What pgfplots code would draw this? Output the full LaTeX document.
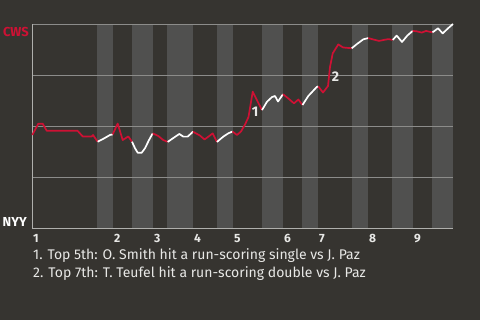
\documentclass[border=0pt]{standalone}
\usepackage{pgfplots}
\pgfplotsset{compat=1.18}
\usepackage{fontspec}
\setmainfont{Fira Sans}
\definecolor{bg}{RGB}{54,52,48}
\definecolor{band}{RGB}{80,80,79}
\definecolor{cws}{RGB}{206,17,52}
\definecolor{gridc}{RGB}{140,140,138}
\definecolor{axc}{RGB}{175,175,172}
\definecolor{txt}{RGB}{232,232,230}
\begin{document}
\begin{tikzpicture}
\begin{axis}[
  at={(32bp,92bp)}, anchor=south west,
  scale only axis, width=421bp, height=204bp,
  xmin=0, xmax=421, ymin=0, ymax=1,
  set layers, clip=false,
  axis x line*=bottom, axis y line*=left,
  axis line style={axc, line width=0.8bp},
  x axis line style={-}, y axis line style={-},
  ytick={0.25,0.5,0.75,1}, yticklabels={},
  ymajorgrids, grid style={gridc, line width=0.8bp},
  major tick length=0pt,
  xtick={0,81,121,161,201,251,286,336,381},
  xticklabels={1,2,3,4,5,6,7,8,9},
  xticklabel style={anchor=north west, font=\bfseries\fontsize{12bp}{12bp}\selectfont, text=txt, inner sep=0pt, yshift=-6bp, xshift=1bp},
  /pgf/number format/assume math mode=true,
  every axis plot/.append style={line width=1.7bp, line join=round},
]
\begin{pgfonlayer}{axis background}
\fill[bg] (axis description cs:-0.076010,-0.450980) rectangle (axis description cs:1.064133,1.117647);
\fill[band] (axis cs:65,0) rectangle (axis cs:81,1);
\fill[band] (axis cs:100,0) rectangle (axis cs:121,1);
\fill[band] (axis cs:135,0) rectangle (axis cs:161,1);
\fill[band] (axis cs:185,0) rectangle (axis cs:201,1);
\fill[band] (axis cs:230,0) rectangle (axis cs:251,1);
\fill[band] (axis cs:270,0) rectangle (axis cs:286,1);
\fill[band] (axis cs:320,0) rectangle (axis cs:336,1);
\fill[band] (axis cs:360,0) rectangle (axis cs:381,1);
\fill[band] (axis cs:400,0) rectangle (axis cs:421,1);
\end{pgfonlayer}
% top 1
\addplot[cws] coordinates {(0.3,0.456)(6.3,0.511)(10.7,0.511)(14.7,0.477)(45.5,0.477)(50.7,0.449)(59.7,0.449)(61,0.456)(65.7,0.423)};
% bottom 1
\addplot[white] coordinates {(65.7,0.423)(72,0.439)(78,0.456)(80.7,0.459)};
% top 2
\addplot[cws] coordinates {(80.7,0.459)(85.7,0.512)(90.7,0.431)(96.3,0.449)(100,0.423)};
% bottom 2
\addplot[white] coordinates {(100,0.423)(103,0.391)(105.7,0.369)(109.7,0.369)(113,0.391)(117,0.431)(120.7,0.464)};
% top 3
\addplot[cws] coordinates {(120.7,0.464)(126.3,0.451)(131.3,0.431)(135.7,0.422)};
% bottom 3
\addplot[white] coordinates {(135.7,0.422)(141.3,0.441)(147.3,0.461)(151.3,0.448)(155.7,0.448)(161,0.472)};
% top 4
\addplot[cws] coordinates {(161,0.472)(168,0.453)(172.5,0.434)(177.3,0.451)(180.7,0.464)(185,0.422)};
% bottom 4
\addplot[white] coordinates {(185,0.422)(191.3,0.448)(196.3,0.464)(200.5,0.473)};
% top 5
\addplot[cws] coordinates {(200.5,0.473)(205,0.456)(209,0.473)(213,0.507)(216.5,0.544)(220.7,0.668)(230,0.578)};
% bottom 5
\addplot[white] coordinates {(230,0.578)(235,0.619)(240,0.642)(243,0.647)(246,0.620)(251,0.656)};
% top 6
\addplot[cws] coordinates {(251,0.656)(256.3,0.635)(262,0.611)(266.3,0.630)(270.5,0.603)};
% bottom 6
\addplot[white] coordinates {(270.5,0.603)(276.3,0.647)(280.5,0.669)(284.7,0.691)(286.3,0.694)};
% top 7
\addplot[cws] coordinates {(286.3,0.694)(291,0.664)(296,0.696)(298,0.789)(300.7,0.856)(306.3,0.900)(311,0.885)(319.7,0.881)};
% bottom 7
\addplot[white] coordinates {(319.7,0.881)(325,0.902)(331.3,0.925)(336.3,0.931)};
% top 8
\addplot[cws] coordinates {(336.3,0.931)(341.3,0.924)(347,0.917)(352,0.922)(356.3,0.926)(360.7,0.922)};
% bottom 8
\addplot[white] coordinates {(360.7,0.922)(364.7,0.943)(370,0.912)(375.5,0.944)(380.7,0.966)};
% top 9
\addplot[cws] coordinates {(380.7,0.966)(384.7,0.964)(389.7,0.958)(394,0.966)(400.5,0.959)};
% bottom 9
\addplot[white] coordinates {(400.5,0.959)(406,0.979)(410.7,0.954)(416.3,0.980)(421,1.0)};
\node[font=\bfseries\fontsize{14bp}{14bp}\selectfont, text=txt] at (axis cs:223,0.569) {1};
\node[font=\bfseries\fontsize{14bp}{14bp}\selectfont, text=txt] at (axis cs:303.5,0.740) {2};
\node[anchor=base east, font=\bfseries\fontsize{13bp}{13bp}\selectfont, text=cws, inner sep=0pt, xshift=-3bp, yshift=-12bp] at (axis description cs:0,1) {CWS};
\node[anchor=base east, font=\bfseries\fontsize{13bp}{13bp}\selectfont, text=white, inner sep=0pt, xshift=-5bp, yshift=2bp] at (axis description cs:0,0) {NYY};
\node[anchor=base west, inner sep=0pt, text=txt, font=\fontsize{14bp}{14bp}\selectfont] at (axis description cs:0.002375,-0.154412) {1. Top 5th: O. Smith hit a run-scoring single vs J. Paz};
\node[anchor=base west, inner sep=0pt, text=txt, font=\fontsize{14bp}{14bp}\selectfont] at (axis description cs:0.002375,-0.242647) {2. Top 7th: T. Teufel hit a run-scoring double vs J. Paz};
\end{axis}
\end{tikzpicture}
\end{document}
